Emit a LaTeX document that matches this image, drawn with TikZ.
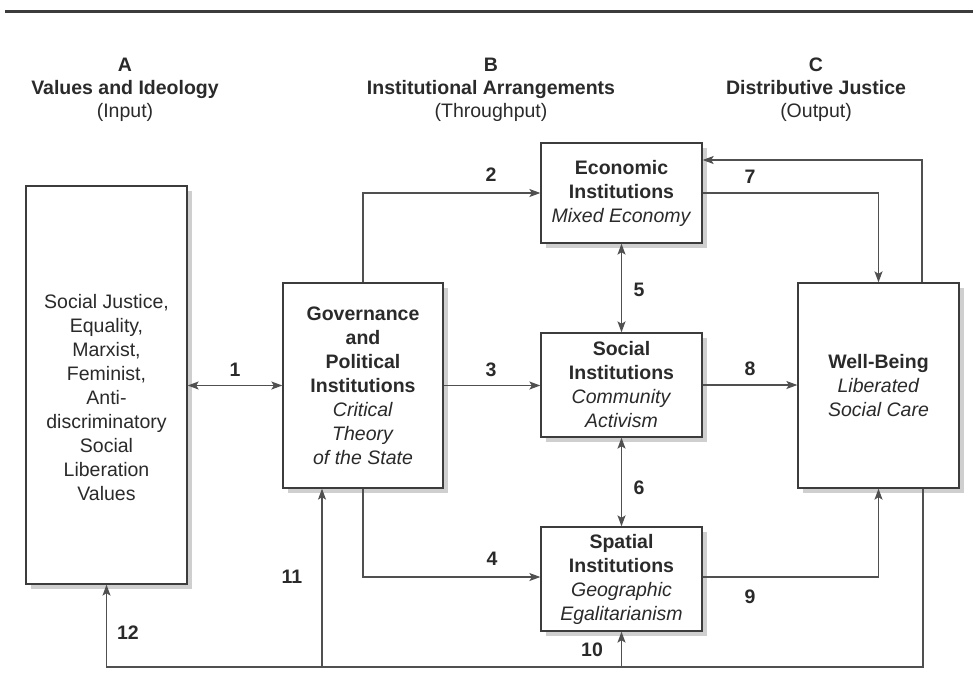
\documentclass[tikz,border=0pt]{standalone}
\usepackage{fontspec}
\setmainfont{Liberation Sans}
\usetikzlibrary{arrows.meta,shadows}
\definecolor{inkline}{HTML}{505050}
\definecolor{inkbox}{HTML}{3C3C3C}
\definecolor{inktext}{HTML}{2A2A2A}
\definecolor{shade}{HTML}{CFCFCF}

\begin{document}
\begin{tikzpicture}[x=1pt,y=-1pt,
  every node/.style={text=inktext, font=\fontsize{19.5}{24}\selectfont},
  box/.style={draw=inkbox, line width=1.3pt, fill=white, inner sep=0pt, align=center,
    drop shadow={shadow xshift=5pt, shadow yshift=-5pt, fill=shade, opacity=1}},
  conn/.style={draw=inkline, line width=1.3pt},
  tip/.tip={Stealth[length=11pt,width=8pt,inset=2.5pt]},
  arr/.style={conn, -tip},
  darr/.style={conn, tip-tip},
  num/.style={font=\bfseries\fontsize{19.5}{24}\selectfont},
  head/.style={align=center, font=\fontsize{19.5}{23}\selectfont}
]
\useasboundingbox (0,0) rectangle (973,691);

% rule across the top
\coordinate (ruleL) at (5,11.5);
\coordinate (ruleR) at (973,11.5);
\draw[draw=inkbox, line width=2.5pt] (ruleL) -- (ruleR);

% column headings
\node[head] (hA) at (125,90) {\textbf{A}\\\textbf{Values and Ideology}\\(Input)};
\node[head] (hB) at (491,90) {\textbf{B}\\\textbf{Institutional Arrangements}\\(Throughput)};
\node[head] (hC) at (816,90) {\textbf{C}\\\textbf{Distributive Justice}\\(Output)};

% boxes
\node[box, minimum width=161pt, minimum height=398pt] (A) at (106.5,385) {};
\node[align=center] (Atext) at (106.5,398)
  {Social Justice,\\Equality,\\Marxist,\\Feminist,\\Anti-\\discriminatory\\Social\\Liberation\\Values};

\node[box, minimum width=160pt, minimum height=205pt] (G) at (363,385.5)
  {\textbf{Governance}\\\textbf{and}\\\textbf{Political}\\\textbf{Institutions}\\\textit{Critical}\\\textit{Theory}\\\textit{of the State}};

\node[box, minimum width=161pt, minimum height=100pt] (E) at (621.5,193)
  {\textbf{Economic}\\\textbf{Institutions}\\\textit{Mixed Economy}};

\node[box, minimum width=161pt, minimum height=104pt] (S) at (621.5,385)
  {\textbf{Social}\\\textbf{Institutions}\\\textit{Community}\\\textit{Activism}};

\node[box, minimum width=161pt, minimum height=104pt] (P) at (621.5,579)
  {\textbf{Spatial}\\\textbf{Institutions}\\\textit{Geographic}\\\textit{Egalitarianism}};

\node[box, minimum width=161pt, minimum height=205pt] (W) at (878.5,385.5)
  {\textbf{Well-Being}\\\textit{Liberated}\\\textit{Social Care}};

% connectors
\draw[darr] (G.west -| A.east) -- (G.west);
\draw[arr] (G.north) |- (E.west);
\draw[arr] (G.east) -- (G.east -| S.west);
\draw[arr] (G.south) |- ([yshift=2pt]P.west);
\draw[darr] (E.south) -- (S.north);
\draw[darr] (S.south) -- (P.north);
\draw[arr] (E.east) -| (W.north);
\draw[arr] ([xshift=43.5pt]W.north) |- ([yshift=33pt]E.east);
\draw[arr] (S.east) -- (S.east -| W.west);
\draw[arr] ([yshift=2pt]P.east) -| (W.south);

% feedback loop along the bottom
\coordinate (base) at (0,667);
\coordinate (wOut) at ([xshift=44.5pt]W.south);
\coordinate (tap) at (322,667);
\draw[arr] (wOut) -- (wOut |- base) -| (A.south);
\draw[arr] (P.south |- base) -- (P.south);
\draw[arr] (tap) -- (tap |- G.south);

% connector numbers
\node[num] (n1) at (235,370) {1};
\node[num] (n2) at (491,175) {2};
\node[num] (n3) at (491,370) {3};
\node[num] (n4) at (492,559) {4};
\node[num] (n5) at (639,290) {5};
\node[num] (n6) at (639,488) {6};
\node[num] (n7) at (750,177) {7};
\node[num] (n8) at (750,369) {8};
\node[num] (n9) at (750,597) {9};
\node[num] (n10) at (592,650) {10};
\node[num] (n11) at (292,577) {11};
\node[num] (n12) at (128,633) {12};
\end{tikzpicture}
\end{document}
